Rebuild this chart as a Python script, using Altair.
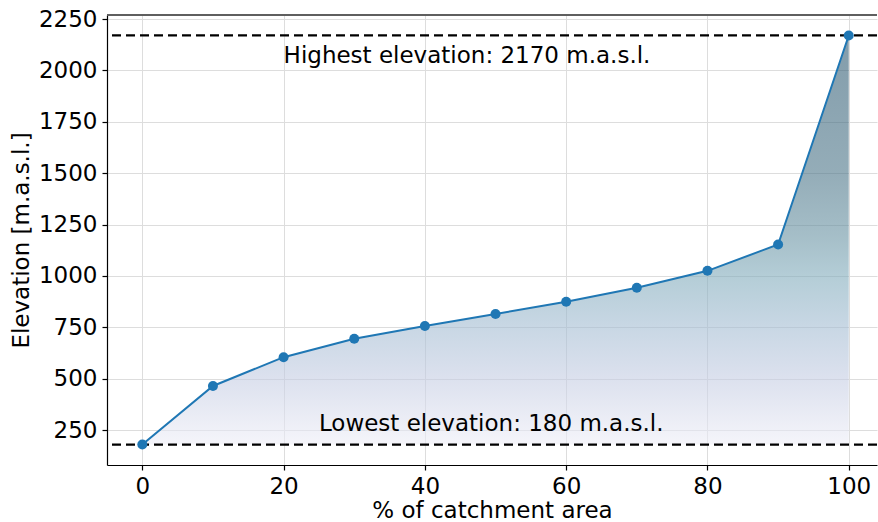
import altair as alt
import pandas as pd

# Hypsometric curve: elevation reached at each share of the catchment area
area_pct = [0, 10, 20, 30, 40, 50, 60, 70, 80, 90, 100]
elevation = [180, 465, 605, 695, 757, 815, 875, 943, 1025, 1153, 2170]

LOW = 180
HIGH = 2170

# colour ramp of the filled area, bottom (offset 0) -> top (offset 1)
ramp_offsets = [0.0, 0.16, 0.29, 0.41, 0.51, 0.66, 1.0]
ramp_colors = ["#eeeef7", "#c5cde3", "#a3bcd2", "#82acbc", "#6993a3", "#4d7689", "#2f5a72"]

notes_x = [20, 25]
notes_y = [HIGH - 100, LOW + 100]
notes_text = [f"Highest elevation: {HIGH} m.a.s.l.", f"Lowest elevation: {LOW} m.a.s.l."]

FONT = "DejaVu Sans"
BLUE = "#1f77b4"
FS = 23

df = pd.DataFrame({"pct": area_pct, "elev": elevation, "base": [LOW] * len(area_pct)})
notes = pd.DataFrame({"x": notes_x, "y": notes_y, "label": notes_text})
levels = pd.DataFrame({"y": [LOW, HIGH]})

margin = 0.05 * (HIGH - LOW)
x_scale = alt.Scale(domain=[-5, 104], nice=False, zero=False)
y_scale = alt.Scale(domain=[LOW - margin, HIGH + margin], nice=False, zero=False)

x_axis = alt.Axis(values=[0, 20, 40, 60, 80, 100], title="% of catchment area")
y_axis = alt.Axis(values=list(range(250, 2251, 250)), format="d", title="Elevation [m.a.s.l.]")

gradient = alt.Gradient(
    gradient="linear",
    stops=[alt.GradientStop(color=c, offset=o) for o, c in zip(ramp_offsets, ramp_colors)],
    x1=0, x2=0, y1=1, y2=0,
)

base = alt.Chart(df)

fill = base.mark_area(color=gradient, opacity=0.6).encode(
    x=alt.X("pct:Q", scale=x_scale, axis=x_axis),
    y=alt.Y("elev:Q", scale=y_scale, axis=y_axis),
    y2="base:Q",
)

curve = base.mark_line(color=BLUE, strokeWidth=2).encode(
    x=alt.X("pct:Q", scale=x_scale),
    y=alt.Y("elev:Q", scale=y_scale),
)

dots = base.mark_circle(color=BLUE, size=100, opacity=1).encode(
    x=alt.X("pct:Q", scale=x_scale),
    y=alt.Y("elev:Q", scale=y_scale),
)

hlines = alt.Chart(levels).mark_rule(color="black", strokeWidth=2.2, strokeDash=[9, 5]).encode(
    y=alt.Y("y:Q", scale=y_scale),
)

labels = alt.Chart(notes).mark_text(
    font=FONT, fontSize=FS, align="left", baseline="middle", color="black"
).encode(
    x=alt.X("x:Q", scale=x_scale),
    y=alt.Y("y:Q", scale=y_scale),
    text="label:N",
)

# upper frame line of the plot box
top_frame = alt.Chart(levels).mark_rule(color="#555555", strokeWidth=1.5).encode(
    y=alt.value(0),
)

chart = (
    alt.layer(fill, curve, hlines, dots, labels, top_frame)
    .properties(
        width=770,
        height=450,
        autosize=alt.AutoSizeParams(type="none"),
        padding={"left": 107, "top": 15, "right": 1, "bottom": 57},
    )
    .configure_view(stroke=None)
    .configure_axis(
        grid=True,
        gridColor="#dddddd",
        gridWidth=1,
        domainColor="black",
        domainWidth=1.2,
        tickColor="black",
        tickSize=5,
        tickWidth=1.2,
        labelFont=FONT,
        labelFontSize=FS,
        labelColor="black",
        labelPadding=5,
        titleFont=FONT,
        titleFontSize=FS,
        titleFontWeight="normal",
        titleColor="black",
    )
    .configure_axisX(titlePadding=1)
    .configure_axisY(titlePadding=5)
)

chart.save("out.html", embed_options={"renderer": "svg", "actions": False})
